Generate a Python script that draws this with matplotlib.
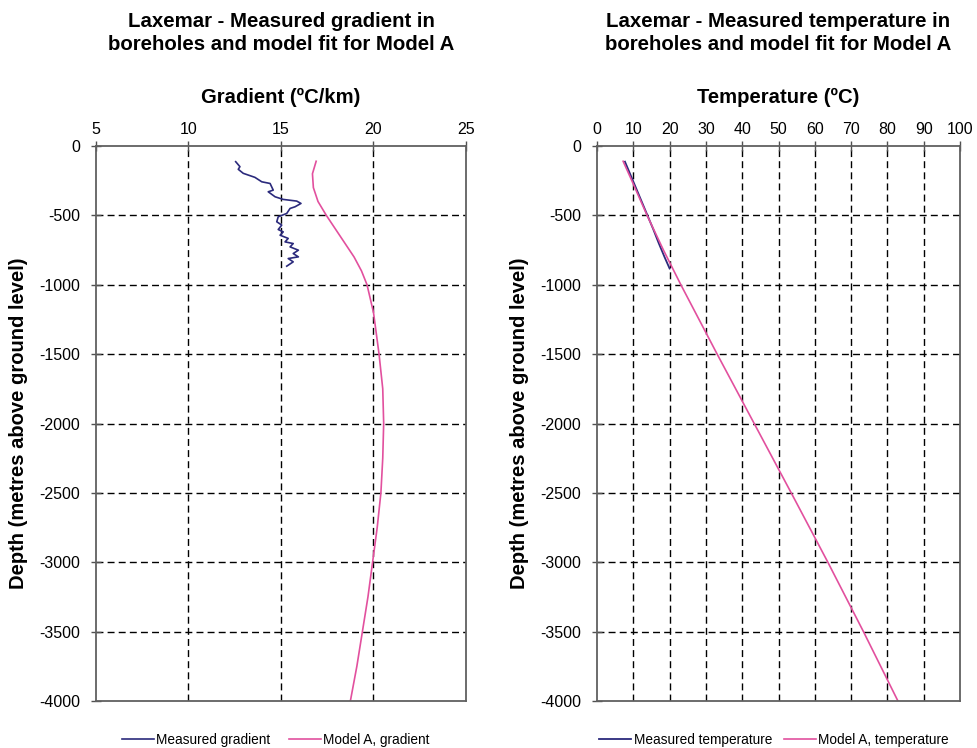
import numpy as np
import matplotlib.pyplot as plt

plt.rcParams['font.family'] = ['Liberation Sans', 'DejaVu Sans']
plt.rcParams['axes.unicode_minus'] = False

# measured gradient (degC/km) vs depth (m)
meas_grad_depth = [-113, -149, -168, -197, -226, -258, -270, -318, -330, -366, -385, -397, -414,
                   -438, -450, -486, -510, -546, -570, -602, -619, -643, -666, -691, -703, -727,
                   -751, -775, -799, -811, -835, -866]
meas_grad = [12.55, 12.78, 12.69, 12.96, 13.59, 13.96, 14.41, 14.58, 14.31, 14.68, 15.12, 15.85, 16.08,
             15.76, 15.49, 15.31, 14.85, 14.77, 15.04, 14.85, 15.12, 14.95, 15.39, 15.22, 15.66, 15.49,
             15.94, 15.66, 15.94, 15.39, 15.66, 15.31]

# model A gradient
model_grad_depth = [-110, -200, -300, -400, -500, -600, -700, -800, -900, -1000, -1200, -1500, -1750,
                    -2000, -2250, -2500, -2750, -3000, -3250, -3500, -3750, -4000]
model_grad = [16.9, 16.7, 16.75, 17.0, 17.45, 17.95, 18.45, 18.95, 19.35, 19.65, 20.0, 20.3, 20.5,
              20.55, 20.5, 20.4, 20.2, 19.95, 19.7, 19.4, 19.1, 18.75]

# measured temperature (degC)
meas_temp_depth = [-113, -200, -300, -400, -500, -600, -700, -800, -883]
meas_temp = [7.7, 9.1, 10.7, 12.3, 13.9, 15.5, 17.0, 18.6, 20.0]

# model A temperature
model_temp_depth = [-110, -250, -500, -750, -1000, -1500, -2000, -2500, -3000, -3500, -4000]
model_temp = [7.2, 9.6, 13.8, 18.3, 23.1, 33.1, 43.3, 53.5, 63.6, 73.4, 82.9]

navy = '#2b2a7c'
pink = '#e2509e'

fig = plt.figure(figsize=(9.78, 7.48), dpi=100)
W, H = 978, 748
ax1 = fig.add_axes([96 / W, 1 - 701 / H, 370 / W, 555 / H])
ax2 = fig.add_axes([597 / W, 1 - 701 / H, 363 / W, 555 / H])


def style(ax, xlim, xticks):
    ax.set_xlim(*xlim)
    ax.set_ylim(-4000, 0)
    ax.set_xticks(xticks)
    ax.set_yticks(np.arange(-4000, 1, 500))
    ax.xaxis.tick_top()
    ax.tick_params(axis='both', direction='inout', length=7, width=1, color='#505050',
                   labelsize=11.5, pad=3)
    ax.tick_params(axis='y', pad=8)
    for s in ax.spines.values():
        s.set_color('#606060')
        s.set_linewidth(1.3)
    ax.grid(True, color='black', linestyle=(0, (5, 3)), linewidth=1)
    ax.set_axisbelow(True)
    # no dashed lines on the frame itself
    xg = ax.xaxis.get_gridlines()
    yg = ax.yaxis.get_gridlines()
    for g in (xg[0], xg[-1], yg[0], yg[-1]):
        g.set_visible(False)
    ax.set_ylabel('Depth (metres above ground level)', fontsize=14.5, fontweight='bold', labelpad=8)


style(ax1, (5, 25), np.arange(5, 26, 5))
style(ax2, (0, 100), np.arange(0, 101, 10))

ax1.plot(meas_grad, meas_grad_depth, color=navy, lw=1.2, label='Measured gradient')
ax1.plot(model_grad, model_grad_depth, color=pink, lw=1.2, label='Model A, gradient')
ax2.plot(meas_temp, meas_temp_depth, color=navy, lw=1.3, label='Measured temperature')
ax2.plot(model_temp, model_temp_depth, color=pink, lw=1.2, label='Model A, temperature')

for ax, ttl, xl, anc, csp in [
        (ax1, 'Laxemar - Measured gradient in\nboreholes and model fit for Model A', 'Gradient (ºC/km)', 0.486, 1.4),
        (ax2, 'Laxemar - Measured temperature in\nboreholes and model fit for Model A', 'Temperature (ºC)', 0.488, 0.9)]:
    ax.text(0.5, 1 + 113 / 555, ttl, transform=ax.transAxes, ha='center', va='center',
            fontsize=14.7, fontweight='bold', linespacing=1.25)
    ax.text(0.5, 1 + 49 / 555, xl, transform=ax.transAxes, ha='center', va='center',
            fontsize=14.6, fontweight='bold')
    ax.legend(loc='center', bbox_to_anchor=(anc, -39 / 555), ncol=2, frameon=False,
              fontsize=9.8, handlelength=2.35, handletextpad=0.15, columnspacing=csp)

fig.savefig('out.png', dpi=100)
